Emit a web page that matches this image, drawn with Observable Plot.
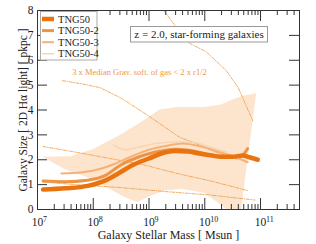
<!DOCTYPE html>
<html><head><meta charset="utf-8">
<script src="https://cdn.jsdelivr.net/npm/d3@7"></script>
<script src="https://cdn.jsdelivr.net/npm/@observablehq/plot@0.6"></script>
<style>body{margin:0;background:#fff} svg{display:block} svg text{font-family:"Liberation Serif","Times New Roman",serif !important}</style>
</head><body><div id="chart"></div>
<script>
// ---- data (log10 stellar mass, size in pkpc) ----
const seriesNames  = ["TNG50", "TNG50-2", "TNG50-3", "TNG50-4"];
const seriesColors = ["#e8730f", "#ee9446", "#f4b27a", "#f9d3ae"];
const seriesWidths = [4.5, 3, 2, 1.4];

const tng50 = [[7.1,0.8],[7.5,0.85],[7.9,0.95],[8.2,1.15],[8.45,1.45],[8.7,1.78],[9.0,2.05],[9.25,2.27],[9.45,2.35],[9.7,2.33],[9.9,2.25],[10.1,2.18],[10.3,2.12],[10.5,2.12],[10.68,2.17],[10.8,2.1],[10.95,2.0]];
const tng50_2 = [[7.1,1.15],[7.5,1.12],[7.9,1.18],[8.2,1.35],[8.5,1.8],[8.8,2.1],[9.1,2.3],[9.5,2.42],[9.8,2.35],[10.1,2.2],[10.4,2.12],[10.65,2.15],[10.77,2.45]];
const tng50_3 = [[7.43,1.45],[7.8,1.5],[8.1,1.62],[8.4,1.85],[8.7,2.15],[9.0,2.4],[9.3,2.55],[9.6,2.65],[9.9,2.55],[10.2,2.35],[10.5,2.15],[10.77,1.9]];
const tng50_4 = [[8.36,2.6],[8.57,2.4],[8.8,2.5],[9.1,2.65],[9.5,2.72],[9.8,2.7],[10.1,2.5],[10.4,2.3]];

// 16-84 percentile band of TNG50
const bandUpper = [[7.1,2.1],[7.6,2.12],[8.0,2.4],[8.5,3.0],[8.9,3.55],[9.2,4.0],[9.5,4.1],[10.0,4.1],[10.3,4.2],[10.5,4.4],[10.7,4.55],[10.93,4.65]];
const bandLower = [[7.1,2.1],[7.5,1.6],[8.0,1.2],[8.3,0.8],[8.6,0.45],[8.8,0.28],[9.0,0.5],[9.3,0.75],[9.6,0.8],[10.0,0.65],[10.4,0.0],[10.66,0.0]];

// 3 x median grav. softening limits (dash-dot)
const soft1 = [[9.2,8.2],[9.48,7.35],[9.71,6.7],[10.02,6.35],[10.38,5.6],[10.6,4.9],[10.86,3.57]];
const soft2 = [[7.45,5.18],[7.8,5.05],[8.12,4.9],[8.48,4.5],[8.66,4.25],[9.0,3.75],[9.55,2.9],[9.85,2.65],[10.2,2.3],[10.6,2.0]];
const soft3 = [[7.1,2.53],[7.7,2.3],[8.3,2.05],[8.9,1.8],[9.5,1.45],[10.1,1.15],[10.77,0.76]];
const soft4 = [[7.1,1.1],[7.8,0.98],[8.5,0.88],[9.3,0.72],[10.1,0.58],[10.9,0.38]];

const yTicks = [0,1,2,3,4,5,6,7,8];
const xTickExps = [7,8,9,10,11];
const xLabel = "Galaxy Stellar Mass [ Msun ]";
const yLabel = "Galaxy Size [ 2D Hα light] [ pkpc ]";
const annotText = "3 x Median Grav. soft. of gas < 2 x r1/2";
const boxText = "z = 2.0, star-forming galaxies";

// ---- layout ----
const W = 316, H = 244, mL = 37, mR = 17, mT = 10, mB = 35;
const pw = W - mL - mR, ph = H - mT - mB;
const axisColor = "#333";
const bandColor = "#fce4cd";
const softColor = "#f0973f";
const font = "Liberation Serif, Times New Roman, serif";

const rows = arr => arr.map(([lm, v]) => ({m: 10 ** lm, v}));
const bandRows = bandUpper.map((u, i) => ({xu: 10 ** u[0], yu: u[1], xl: 10 ** bandLower[i][0], yl: bandLower[i][1]}));

const xMajor = xTickExps.map(e => 10 ** e);
const xMinor = [];
for (let e = 7; e <= 11; e++) for (let k = 2; k <= 9; k++) if (k * 10 ** e <= 5e11) xMinor.push(k * 10 ** e);

const lines = [tng50, tng50_2, tng50_3, tng50_4];
const softs = [soft1, soft2, soft3, soft4];

const plot = Plot.plot({
  width: W, height: H, marginLeft: mL, marginRight: mR, marginTop: mT, marginBottom: mB,
  style: {fontFamily: font, fontSize: "11px", color: "#222", background: "white"},
  x: {type: "log", domain: [1e7, 5e11]},
  y: {domain: [0, 8]},
  marks: [
    Plot.area(bandRows, {x1: "xl", y1: "yl", x2: "xu", y2: "yu", fill: bandColor, clip: true}),
    ...softs.map(s => Plot.line(rows(s), {x: "m", y: "v", stroke: softColor, strokeWidth: 0.8, strokeDasharray: "3,1.5,0.8,1.5", clip: true})),
    ...[3, 2, 1, 0].map(i => Plot.line(rows(lines[i]), {x: "m", y: "v", stroke: seriesColors[i], strokeWidth: seriesWidths[i], curve: "monotone-x", strokeLinejoin: "round"})),
    Plot.frame({stroke: axisColor}),
    Plot.tickX(xMajor, {x: d => d, insetTop: ph - 11, stroke: axisColor}),
    Plot.tickX(xMajor, {x: d => d, insetBottom: ph - 11, stroke: axisColor}),
    Plot.tickX(xMinor, {x: d => d, insetTop: ph - 5, stroke: axisColor}),
    Plot.tickX(xMinor, {x: d => d, insetBottom: ph - 5, stroke: axisColor}),
    Plot.tickY(yTicks, {y: d => d, insetRight: pw - 10, stroke: axisColor}),
    Plot.tickY(yTicks, {y: d => d, insetLeft: pw - 10, stroke: axisColor}),
    Plot.axisY({ticks: yTicks, tickSize: 0, tickPadding: 4, fontSize: 11.5, label: null, tickFormat: d => String(d)}),
    Plot.axisX({ticks: [], label: null, tickSize: 0}),
    Plot.text(xTickExps, {x: e => 10 ** e, frameAnchor: "bottom", text: () => "10", dy: 16.5, lineAnchor: "bottom", fontSize: 11.5, fill: "#222"}),
    Plot.text(xTickExps, {x: e => 10 ** e, frameAnchor: "bottom", text: e => String(e), dx: 5.5, dy: 12, lineAnchor: "bottom", textAnchor: "start", fontSize: 8, fill: "#222"}),
    Plot.text([xLabel], {frameAnchor: "bottom", text: d => d, dy: 29, lineAnchor: "bottom", fontSize: 12, fill: "#222"}),
    Plot.text([yLabel], {frameAnchor: "left", text: d => d, rotate: -90, dx: -11, lineAnchor: "bottom", textAnchor: "middle", fontSize: 11.5, fill: "#222"}),
    Plot.text([annotText], {frameAnchor: "top", text: d => d, dx: -29, dy: 62, lineAnchor: "middle", fontSize: 8.5, fill: softColor})
  ]
});
document.getElementById("chart").appendChild(plot);

// ---- annotation box and legend ----
const svg = d3.select(plot);
const boxG = svg.append("g");
boxG.append("rect").attr("x", 130.5).attr("y", 26.5).attr("width", 137).attr("height", 15.5)
  .attr("fill", "white").attr("stroke", "#999").attr("stroke-width", 1);
boxG.append("text").attr("x", 199).attr("y", 38).attr("text-anchor", "middle")
  .attr("font-family", font).attr("font-size", 11).attr("fill", "#222").text(boxText);

const lg = svg.append("g");
lg.append("rect").attr("x", 40.5).attr("y", 11.5).attr("width", 56.5).attr("height", 48.5)
  .attr("fill", "white").attr("stroke", "#aaa").attr("stroke-width", 1);
seriesNames.forEach((n, i) => {
  const y = 19 + i * 11.6;
  lg.append("line").attr("x1", 42).attr("x2", 54).attr("y1", y).attr("y2", y)
    .attr("stroke", seriesColors[i]).attr("stroke-width", seriesWidths[i]);
  lg.append("text").attr("x", 58).attr("y", y + 3.6).attr("text-anchor", "start").attr("font-family", font)
    .attr("font-size", 10.5).attr("fill", "#222").text(n);
});
</script></body></html>
